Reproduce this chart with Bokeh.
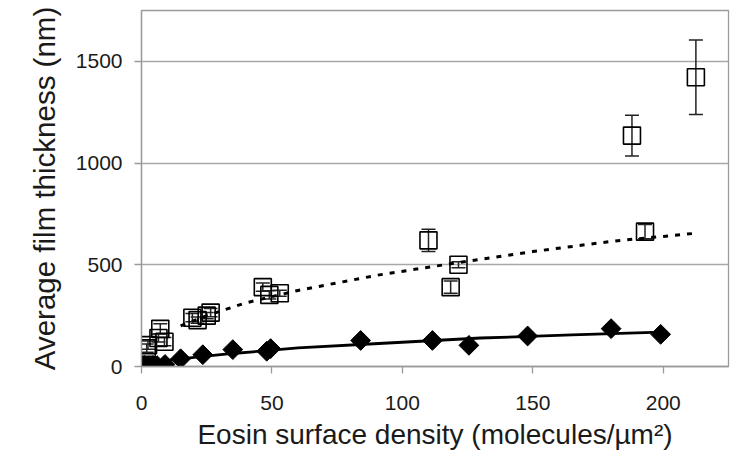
from bokeh.plotting import figure
from bokeh.models import ColumnDataSource, Whisker, TeeHead, FixedTicker, Range1d
from bokeh.embed import file_html
from bokeh.resources import INLINE
import numpy as np

# ---- data ----
diamond_x = [0, 1, 2.5, 4.5, 6, 9, 15, 23.5, 35, 48, 49.5, 84, 111.5, 125.5, 148, 180, 199]
diamond_y = [3, 6, 2, 6, 4, 10, 38, 58, 83, 75, 88, 128, 128, 104, 150, 186, 158]

square_x = [0, 1, 2, 2.5, 7.2, 6.5, 8.8, 19.5, 21.5, 25, 26.5, 46.5, 49, 53, 110, 118.5, 121.5, 188, 193, 212.5]
square_y = [5, 8, 90, 105, 185, 140, 122, 240, 228, 250, 265, 390, 352, 360, 620, 390, 500, 1135, 663, 1422]
square_err = [5, 5, 20, 20, 25, 20, 20, 20, 15, 15, 20, 20, 20, 15, 55, 30, 15, 100, 35, 183]

# trend lines
solid_x = [9, 15, 22, 35, 50, 60, 91, 130, 165, 199]
solid_y = [28, 38, 47, 64, 80, 92, 113, 140, 155, 169]
dash_x = [15, 25, 40, 60, 90, 120, 150, 180, 212.5]
dash_y = [200, 250, 313, 374, 448, 508, 565, 615, 655]

x_ticks = [0, 50, 100, 150, 200]
y_ticks = [0, 500, 1000, 1500]

FONT = "Liberation Sans"
TXT = "#1a1a1a"
GRAY = "#9a9a9a"

p = figure(width=734, height=452, output_backend="svg", toolbar_location=None,
           x_range=Range1d(0, 225), y_range=Range1d(0, 1750),
           min_border_left=141, min_border_right=6, min_border_top=10, min_border_bottom=84)

p.background_fill_color = "white"
p.border_fill_color = "white"
p.outline_line_color = GRAY
p.outline_line_width = 1.3

p.xgrid.grid_line_color = None
p.ygrid.grid_line_color = "#a8a8a8"
p.ygrid.grid_line_width = 1.3

for ax in (p.xaxis, p.yaxis):
    ax.axis_line_color = GRAY
    ax.axis_line_width = 1.3
    ax.major_tick_line_color = GRAY
    ax.major_tick_line_width = 1.3
    ax.major_tick_out = 7
    ax.major_tick_in = 0
    ax.minor_tick_line_color = None
    ax.major_label_text_font = FONT
    ax.major_label_text_font_size = "21px"
    ax.major_label_text_color = TXT
    ax.axis_label_text_font = FONT
    ax.axis_label_text_font_style = "normal"
    ax.axis_label_text_color = TXT

p.xaxis.axis_label_text_font_size = "28px"
p.yaxis.axis_label_text_font_size = "29.5px"
p.xaxis.ticker = FixedTicker(ticks=x_ticks)
p.yaxis.ticker = FixedTicker(ticks=y_ticks)
p.xaxis.major_label_standoff = 22
p.yaxis.major_label_standoff = 12
p.xaxis.axis_label_standoff = 6
p.yaxis.axis_label_standoff = 12
p.xaxis.axis_label = "Eosin surface density (molecules/µm²)"
p.yaxis.axis_label = "Average film thickness (nm)"

# trend lines
p.line(solid_x, solid_y, line_color="black", line_width=2.8)
p.line(dash_x, dash_y, line_color="black", line_width=3, line_dash="5 7")

# error bars
src = ColumnDataSource(dict(
    x=square_x,
    upper=[y + e for y, e in zip(square_y, square_err)],
    lower=[y - e for y, e in zip(square_y, square_err)],
))
p.add_layout(Whisker(base="x", upper="upper", lower="lower", source=src,
                     line_color="#222222", line_width=1.5,
                     upper_head=TeeHead(size=14, line_color="#222222", line_width=1.5),
                     lower_head=TeeHead(size=14, line_color="#222222", line_width=1.5)))

# markers
p.scatter(square_x, square_y, marker="square", size=17, fill_color=None,
          line_color="black", line_width=1.6)
p.scatter(diamond_x, diamond_y, marker="square", angle=np.pi / 4, size=14,
          fill_color="black", line_color="black")

open("out.html", "w").write(file_html(p, INLINE))
